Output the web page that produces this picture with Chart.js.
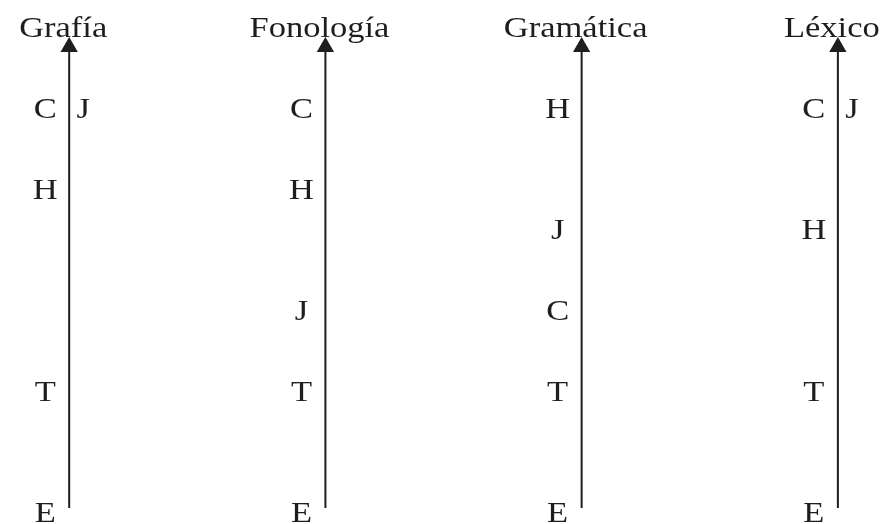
<!DOCTYPE html>
<html>
<head>
<meta charset="utf-8">
<script src="https://cdn.jsdelivr.net/npm/chart.js@4"></script>
<style>
  body { margin: 0; background: #fff; }
  #wrap { width: 884px; height: 524px; }
</style>
</head>
<body>
<div id="wrap"><canvas id="myChart" width="884" height="524"></canvas></div>
<script>
// ejes y letras
var ejes = ['Grafía', 'Fonología', 'Gramática', 'Léxico'];
var letras = ['C', 'H', 'J', 'T', 'E'];

// nivel de cada letra (mismo orden que letras)
var grafia = [5, 4, 5, 1.5, 0];
var fonologia = [5, 4, 2.5, 1.5, 0];
var gramatica = [2.5, 5, 3.5, 1.5, 0];
var lexico = [5, 3.5, 5, 1.5, 0];

var series = [grafia, fonologia, gramatica, lexico];
var tinta = '#1e1e1e';

var datasets = [];

// flechas
ejes.forEach(function (eje, k) {
    datasets.push({
        type: 'line',
        label: eje,
        data: [{ x: k, y: 0.05 }, { x: k, y: 5.755 }],
        borderColor: tinta,
        borderWidth: 2,
        pointStyle: 'triangle',
        pointRadius: [0, 10],
        pointBackgroundColor: tinta,
        pointBorderWidth: 0,
        eje: eje
    });
});

// letras
series.forEach(function (serie, k) {
    var puntos = [];
    serie.forEach(function (v, j) {
        // si otra letra ya ocupa el mismo nivel, va a la derecha
        var repetida = serie.slice(0, j).indexOf(v) !== -1;
        puntos.push({ x: k, y: v, letra: letras[j], lado: repetida ? 1 : -1 });
    });
    datasets.push({
        type: 'scatter',
        label: ejes[k] + ' letras',
        data: puntos,
        pointRadius: 0,
        esLetras: true
    });
});

function texto(ctx, t, x, y) {
    ctx.save();
    ctx.translate(x, y);
    ctx.scale(1.15, 1);
    ctx.fillText(t, 0, 0);
    ctx.restore();
}

var rotulos = {
    id: 'rotulos',
    afterDatasetsDraw: function (chart) {
        var ctx = chart.ctx;
        ctx.save();
        ctx.fillStyle = tinta;
        ctx.font = '30px "Liberation Serif", "Times New Roman", serif';
        ctx.textAlign = 'center';
        ctx.textBaseline = 'alphabetic';
        chart.data.datasets.forEach(function (ds, i) {
            var meta = chart.getDatasetMeta(i);
            if (ds.esLetras) {
                meta.data.forEach(function (el, j) {
                    var p = ds.data[j];
                    var dx = p.lado < 0 ? -24 : 14;
                    texto(ctx, p.letra, el.x + dx, el.y + 10);
                });
            } else {
                var tope = meta.data[1];
                texto(ctx, ds.eje, tope.x - 6, tope.y - 10);
            }
        });
        ctx.restore();
    }
};

var ctx = document.getElementById('myChart').getContext('2d');
new Chart(ctx, {
    data: { datasets: datasets },
    options: {
        responsive: false,
        animation: false,
        layout: { padding: 0, autoPadding: false },
        plugins: {
            legend: { display: false },
            tooltip: { enabled: false }
        },
        scales: {
            x: { type: 'linear', display: false, min: -0.27, max: 3.18 },
            y: { type: 'linear', display: false, min: -0.149, max: 6.337 }
        }
    },
    plugins: [rotulos]
});
</script>
</body>
</html>
